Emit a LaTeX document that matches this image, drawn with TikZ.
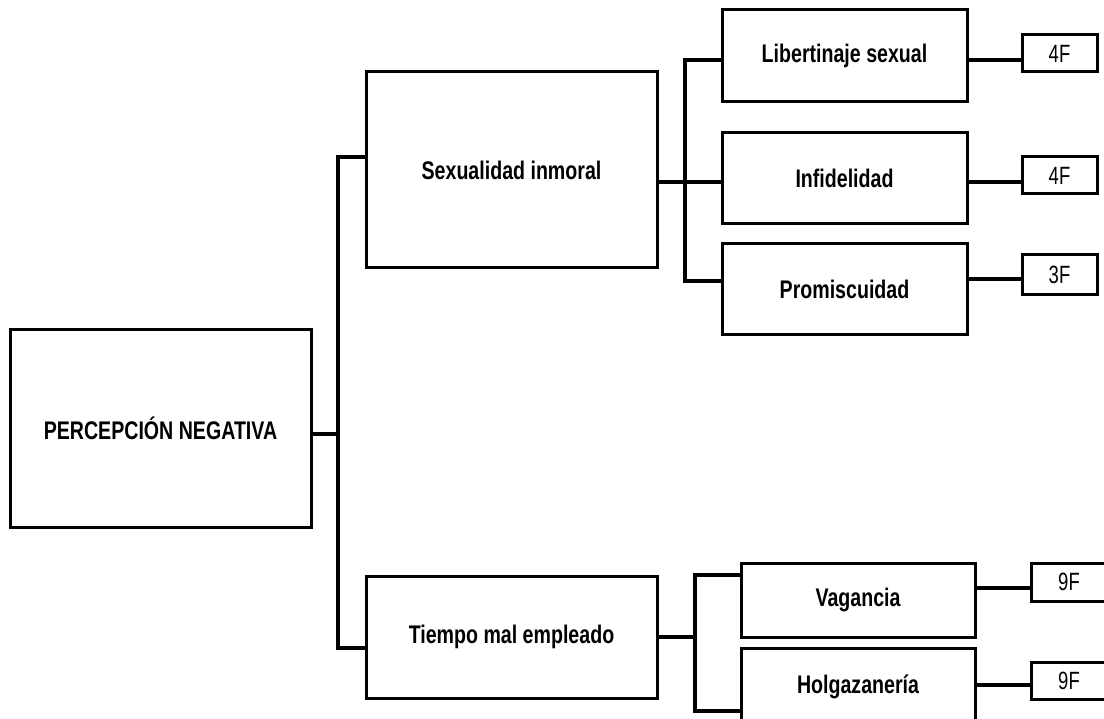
\documentclass[tikz,border=0pt]{standalone}
\usepackage{fontspec}
\usepackage{graphicx}
\setmainfont{Liberation Sans}
\newcommand{\bigtxt}[1]{\scalebox{1}[1.3]{\fontsize{19.6}{21}\selectfont\bfseries #1}}
\newcommand{\smalltxt}[1]{\scalebox{1}[1.35]{\fontsize{18.5}{19}\selectfont #1}}
\begin{document}
\begin{tikzpicture}[x=1pt,y=-1pt,
  box/.style={draw=black,line width=3pt,fill=white,inner sep=0pt,minimum width=#1},
  conn/.style={draw=black,line width=3.5pt,line cap=rect,line join=miter},
  fconn/.style={draw=black,line width=4pt}]
\clip (0,0) rectangle (1104,719);
\fill[white] (0,0) rectangle (1104,719);
% nodes
\node[box=301pt,minimum height=197pt] (root) at (160.5,428.5) {\bigtxt{PERCEPCIÓN NEGATIVA}};
\node[box=291pt,minimum height=196pt] (sex) at (511.5,170) {\bigtxt{Sexualidad inmoral}};
\node[box=291pt,minimum height=122pt] (tiempo) at (511.5,637) {\bigtxt{Tiempo mal empleado}};
\node[box=245pt,minimum height=92pt] (lib) at (844.5,55.5) {\bigtxt{Libertinaje sexual}};
\node[box=245pt,minimum height=91pt] (inf) at (844.5,178.5) {\bigtxt{Infidelidad}};
\node[box=245pt,minimum height=91pt] (pro) at (844.5,289.5) {\bigtxt{Promiscuidad}};
\node[box=234pt,minimum height=74pt] (vag) at (858,600) {\bigtxt{Vagancia}};
\node[box=234pt,minimum height=78pt] (hol) at (858,687) {\bigtxt{Holgazanería}};
\node[box=75pt,minimum height=37pt] (f1) at (1059.5,53.5) {\smalltxt{4F}};
\node[box=75pt,minimum height=37pt] (f2) at (1059.5,175.5) {\smalltxt{4F}};
\node[box=75pt,minimum height=40pt] (f3) at (1059.5,275) {\smalltxt{3F}};
\node[box=75pt,minimum height=38pt] (g1) at (1069,582) {\smalltxt{9F}};
\node[box=75pt,minimum height=37pt] (g2) at (1069,680.5) {\smalltxt{9F}};
% level 1 connectors
\coordinate (A) at (338,434);
\coordinate (rb) at ([yshift=-5.5pt]root.east);
\coordinate (sb) at ([yshift=13pt]sex.west);
\coordinate (tb) at ([yshift=-11pt]tiempo.west);
\draw[conn] (rb) -- (rb -| A);
\draw[conn] (sb) -| (A) |- (tb);
% level 2: sexualidad
\coordinate (B) at (685,182);
\coordinate (se) at ([yshift=-12pt]sex.east);
\coordinate (lw) at ([yshift=-4.5pt]lib.west);
\coordinate (iw) at ([yshift=-3.5pt]inf.west);
\coordinate (pw) at ([yshift=8.5pt]pro.west);
\draw[conn] (se) -- (se -| B);
\draw[conn] (lw) -| (B) |- (pw);
\draw[conn] (iw) -- (iw -| B);
% level 2: tiempo
\coordinate (C) at (695,637);
\coordinate (te) at (tiempo.east);
\coordinate (vw) at ([yshift=25pt]vag.west);
\coordinate (hw) at ([yshift=-24pt]hol.west);
\draw[conn] (te) -- (te -| C);
\draw[conn] (vw) -| (C) |- (hw);
% frequency connectors
\coordinate (le) at ([yshift=-4.5pt]lib.east);
\coordinate (ie) at ([yshift=-3.5pt]inf.east);
\coordinate (pe) at ([yshift=10.5pt]pro.east);
\coordinate (ve) at ([yshift=12pt]vag.east);
\coordinate (he) at ([yshift=2pt]hol.east);
\draw[fconn] (le) -- (le -| f1.west);
\draw[fconn] (ie) -- (ie -| f2.west);
\draw[fconn] (pe) -- (pe -| f3.west);
\draw[fconn] (ve) -- (ve -| g1.west);
\draw[fconn] (he) -- (he -| g2.west);
\end{tikzpicture}
\end{document}
